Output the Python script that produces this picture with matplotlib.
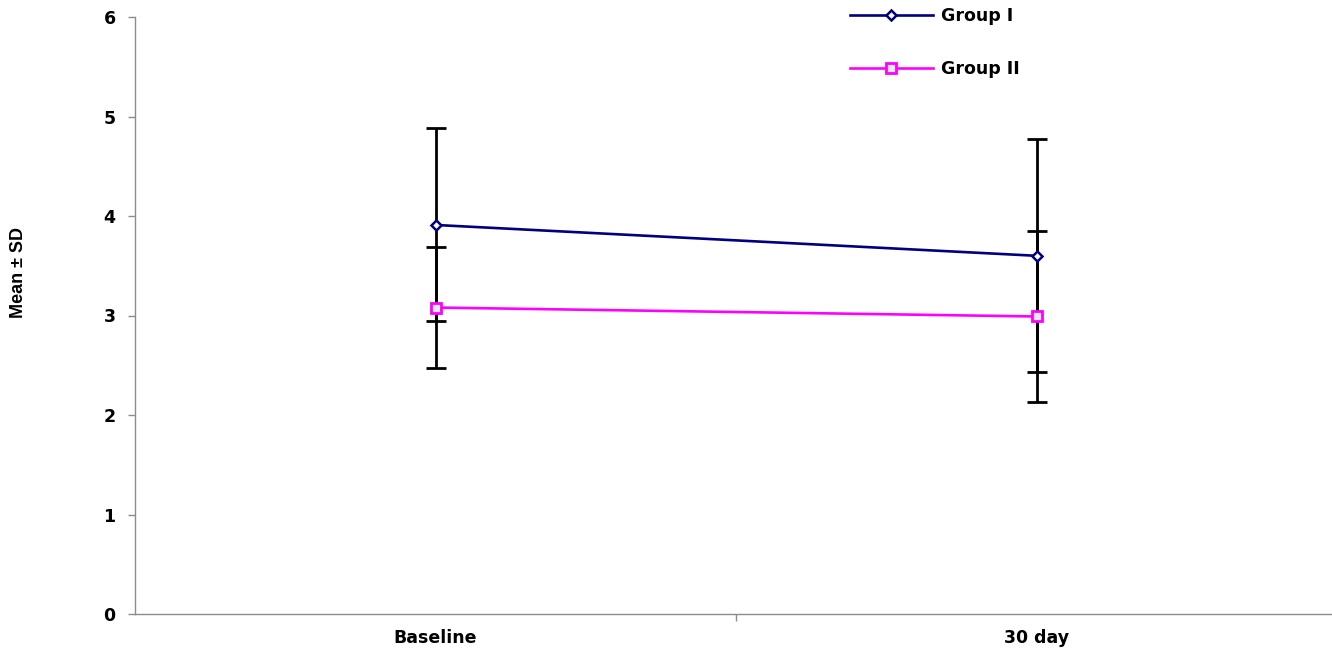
import matplotlib
matplotlib.use("Agg")
import matplotlib.pyplot as plt
from matplotlib.ticker import FixedLocator, NullFormatter, FixedFormatter

categories = ["Baseline", "30 day"]
series_names = ["Group I", "Group II"]
group1_mean = [3.91, 3.60]
group1_sd = [0.97, 1.17]
group2_mean = [3.08, 2.99]
group2_sd = [0.61, 0.86]
y_ticks = [0, 1, 2, 3, 4, 5, 6]
y_label = "Mean ± SD"

fig = plt.figure(figsize=(13.32, 6.48), dpi=100)
ax = fig.add_axes([135 / 1332, 1 - 614 / 648, 1 - 135 / 1332, (614 - 17) / 648])

xpos = [i + 0.5 for i in range(len(categories))]
tick_font = dict(family="DejaVu Sans", weight="bold", size=12.5)

# error bars (black)
for means, sds in [(group1_mean, group1_sd), (group2_mean, group2_sd)]:
    ax.errorbar(xpos, means, yerr=sds, fmt="none", ecolor="black",
                elinewidth=2.0, capsize=7, capthick=2.0, zorder=2)

l1, = ax.plot(xpos, group1_mean, color="#000080", lw=1.9, marker="D",
              markersize=5, markerfacecolor="white", markeredgecolor="#000080",
              markeredgewidth=1.8, zorder=3, label=series_names[0])
l2, = ax.plot(xpos, group2_mean, color="#FF00FF", lw=1.9, marker="s",
              markersize=6.5, markerfacecolor="#E8E8F8", markeredgecolor="#FF00FF",
              markeredgewidth=2.0, zorder=3, label=series_names[1])

ax.set_xlim(0, (1332 - 135) / 601.0)
ax.set_ylim(0, 6)

for s in ["top", "right"]:
    ax.spines[s].set_visible(False)
for s in ["left", "bottom"]:
    ax.spines[s].set_color("#8c8c8c")
    ax.spines[s].set_linewidth(1.0)

ax.set_yticks(y_ticks)
ax.set_yticklabels([str(v) for v in y_ticks], fontdict=tick_font)
ax.tick_params(axis="y", direction="out", length=5, width=1, color="#8c8c8c", pad=9)

ax.xaxis.set_major_locator(FixedLocator([1]))
ax.xaxis.set_major_formatter(NullFormatter())
ax.xaxis.set_minor_locator(FixedLocator(xpos))
ax.xaxis.set_minor_formatter(FixedFormatter(categories))
ax.tick_params(axis="x", which="major", direction="out", length=5, width=1, color="#8c8c8c")
ax.tick_params(axis="x", which="minor", length=0, pad=11)
for lab in ax.xaxis.get_minorticklabels():
    lab.set_fontfamily("DejaVu Sans")
    lab.set_fontweight("bold")
    lab.set_fontsize(12.5)

fig.text(19 / 1332, 1 - 273 / 648, y_label, rotation=90, ha="center", va="center",
         family="Liberation Sans", weight="bold", fontsize=13)

leg = fig.legend(handles=[l1, l2], loc="upper left",
                 bbox_to_anchor=(834 / 1332, 1 + 9 / 648), frameon=False,
                 handlelength=4.8, labelspacing=2.05, handletextpad=0.45,
                 prop=dict(family="DejaVu Sans", weight="bold", size=12.5))

fig.savefig("out.png", dpi=100)
